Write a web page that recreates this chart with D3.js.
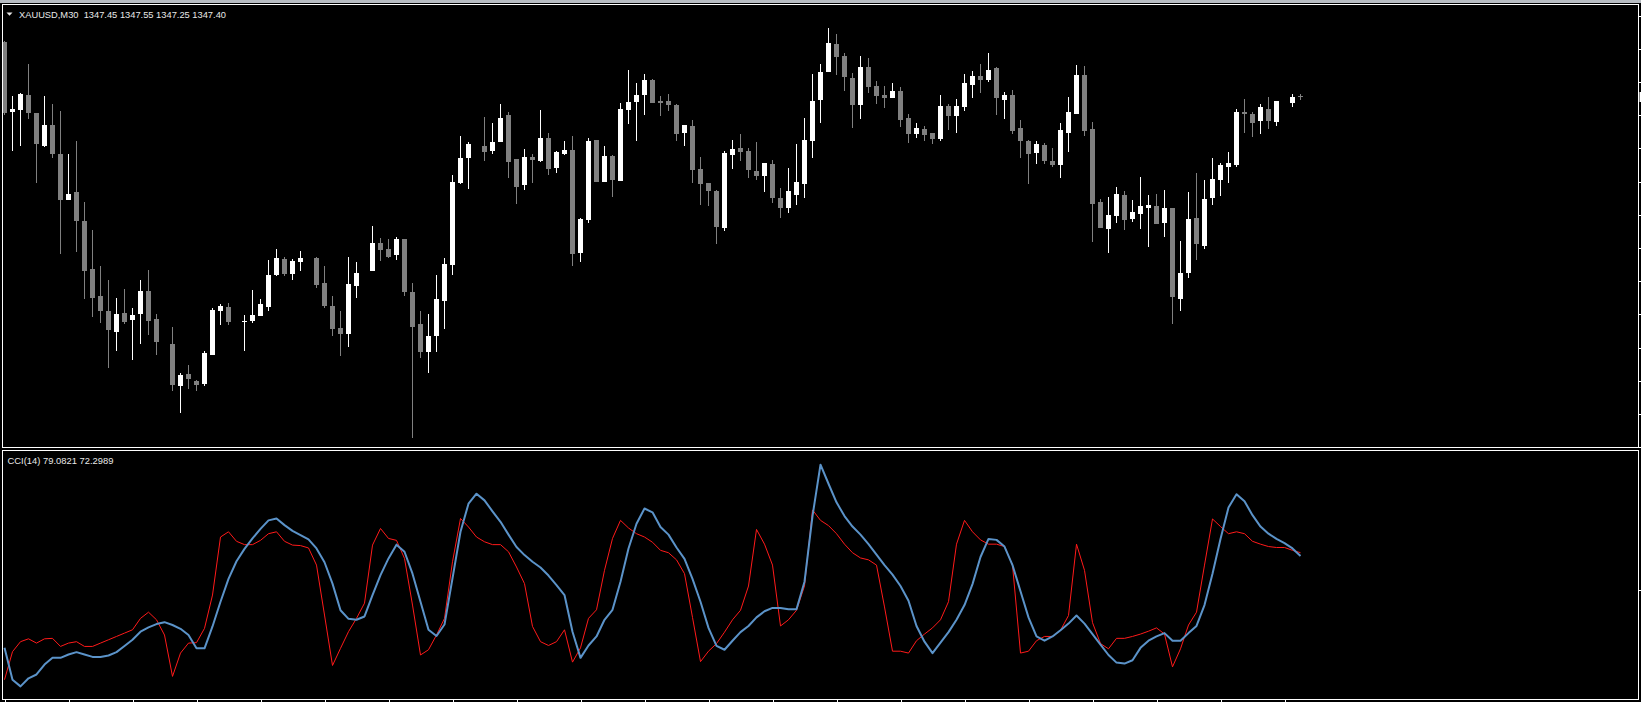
<!DOCTYPE html>
<html><head><meta charset="utf-8">
<script src="https://cdn.jsdelivr.net/npm/d3@7/dist/d3.min.js"></script>
<style>html,body{margin:0;padding:0;background:#000;overflow:hidden}</style>
</head><body>
<svg id="c" width="1641" height="702"></svg>
<script>
const headerText = "XAUUSD,M30  1347.45 1347.55 1347.25 1347.40";
const cciText = "CCI(14) 79.0821 72.2989";
const bidPrice = 1347.40;

const open = [1350.13,1346.67,1346.75,1347.50,1346.58,1344.97,1346.00,1344.53,1342.27,1342.65,
1341.20,1338.80,1337.45,1336.70,1335.67,1336.60,1336.27,1336.57,1337.70,1336.30,
null,1335.05,1332.95,1333.55,1333.20,1333.05,1334.50,1336.72,1336.90,null,
1336.13,1336.22,1336.47,1336.92,1338.50,1339.30,1338.55,1339.15,null,1339.35,
1338.10,1336.95,1335.85,1335.55,1337.95,null,1338.70,1340.10,1339.80,1339.50,
1340.30,1337.65,1336.05,1334.65,1335.45,1337.20,1339.00,1343.10,1344.35,null,
1344.95,1344.70,1345.15,1346.50,1344.30,1343.00,1344.40,1344.20,1345.35,1343.85,
1344.55,1344.75,1339.60,1341.25,1345.25,1343.15,1344.45,1343.20,1346.75,1347.15,
1347.50,1348.25,1347.20,1347.20,1347.00,1345.60,1345.95,1343.80,1343.10,1342.70,
1340.85,1344.50,1344.85,1344.70,1343.70,1343.45,1344.05,1342.35,1341.85,1342.50,
1343.05,1345.20,1347.25,1348.65,1350.05,1349.45,1348.35,1347.00,1348.90,1347.95,
1347.50,1347.35,1347.70,1346.35,1345.55,1345.80,1345.60,1345.30,1346.95,1346.45,
1346.90,1348.00,1348.45,1348.25,1348.85,1347.25,1347.50,1345.85,1345.20,1344.60,
1345.00,1344.20,1344.00,1345.60,1346.55,1348.50,1345.80,1342.15,1340.80,1341.45,
1342.50,1341.30,1341.55,1341.85,1341.95,1341.10,1341.85,1337.30,1338.60,1341.35,
1339.95,1342.35,1343.25,1343.90,1344.00,1346.65,1346.55,1346.20,1346.80,1346.15,
null,1347.10,1347.45];

const high = [1350.20,1347.45,1347.60,1349.05,1346.58,1347.45,1347.05,1346.70,1344.55,1345.20,
1342.15,1340.75,1338.95,1338.25,1337.35,1337.80,1336.83,1338.25,1338.75,1336.55,
null,1335.88,1333.58,1334.00,1333.23,1334.70,1336.85,1337.05,1337.10,null,
1336.50,1337.75,1337.30,1339.25,1339.80,1339.40,1339.30,1339.70,null,1339.40,
1338.95,1337.45,1336.70,1339.40,1339.15,null,1340.95,1340.35,1340.30,1340.40,
1340.30,1338.10,1336.70,1336.55,1338.50,1339.35,1343.50,1345.45,1345.15,null,
1346.40,1346.10,1347.05,1346.65,1344.30,1344.80,1344.55,1346.75,1345.60,1344.70,
1345.20,1345.45,1341.35,1345.35,1345.25,1344.95,1344.50,1347.10,1348.75,1348.10,
1348.55,1348.30,1347.45,1347.55,1347.05,1346.00,1346.25,1344.40,1343.10,1342.75,
1344.70,1345.25,1345.55,1344.85,1345.15,1344.10,1344.25,1342.85,1343.85,1345.05,
1346.35,1348.55,1349.05,1350.85,1350.55,1349.60,1348.60,1349.45,1349.35,1348.20,
1347.95,1348.10,1347.90,1346.55,1346.10,1345.95,1345.60,1347.50,1347.05,1347.30,
1348.55,1348.70,1349.05,1349.60,1348.90,1347.65,1347.75,1346.25,1345.25,1345.20,
1345.10,1344.85,1346.10,1347.40,1349.00,1348.95,1346.15,1342.30,1342.40,1342.90,
1342.70,1342.25,1343.40,1342.50,1342.55,1342.75,1341.85,1340.20,1342.65,1343.60,
1343.25,1344.35,1344.10,1344.65,1346.80,1347.30,1346.65,1347.05,1347.40,1347.20,
null,1347.55,1347.55];

const low = [1346.50,1344.70,1344.97,1346.32,1343.12,1344.92,1344.37,1339.57,1342.23,1339.67,
1337.30,1336.42,1336.12,1333.83,1334.72,1336.05,1334.27,1335.07,1335.52,1334.50,
null,1332.72,1331.62,1332.82,1332.72,1332.97,1334.50,1336.00,1336.02,null,
1334.72,1336.12,1336.47,1336.72,1338.47,1338.47,1338.25,1338.70,null,1337.85,
1336.85,1335.45,1334.45,1334.90,1337.35,null,1338.70,1339.20,1339.35,1339.25,
1337.45,1330.35,1334.35,1333.60,1334.65,1335.80,1338.50,1343.05,1342.80,null,
1344.20,1344.55,1345.15,1343.35,1342.05,1342.75,1343.10,1344.15,1343.50,1343.60,
1344.50,1338.95,1339.15,1341.10,1343.15,1343.15,1342.40,1343.20,1346.05,1345.20,
1346.50,1347.10,1346.45,1346.70,1345.20,1344.95,1343.10,1342.00,1341.95,1340.05,
1340.70,1343.80,1344.20,1343.35,1343.25,1342.65,1342.10,1341.35,1341.60,1342.00,
1342.35,1344.35,1346.10,1348.65,1348.50,1347.70,1345.85,1346.30,1347.60,1347.05,
1346.85,1347.35,1345.90,1345.10,1345.35,1345.20,1345.05,1345.20,1345.75,1345.60,
1346.70,1347.35,1347.60,1348.15,1346.50,1346.30,1345.55,1344.35,1343.05,1344.05,
1344.05,1343.90,1343.35,1344.65,1346.55,1345.45,1340.15,1340.85,1339.60,1341.10,
1340.75,1341.15,1340.80,1339.90,1341.05,1340.40,1336.05,1336.70,1338.35,1339.25,
1339.80,1342.00,1342.45,1343.10,1343.90,1345.60,1345.40,1345.55,1345.80,1345.95,
null,1346.90,1347.25];

const close = [1346.58,1346.80,1347.55,1346.62,1345.03,1346.00,1344.57,1342.27,1342.55,1341.22,
1338.72,1337.37,1336.72,1335.77,1336.55,1336.17,1336.50,1337.70,1336.22,1335.17,
null,1333.00,1333.50,1333.32,1333.02,1334.60,1336.75,1336.95,1336.17,null,
1336.22,1336.50,1337.05,1338.50,1339.35,1338.55,1339.20,1339.35,null,1338.00,
1336.95,1335.80,1335.55,1338.05,1338.60,null,1340.10,1339.75,1339.40,1340.30,
1337.65,1335.90,1334.65,1335.45,1337.30,1339.05,1343.15,1344.35,1345.05,null,
1344.65,1345.15,1346.35,1344.15,1342.90,1344.40,1344.25,1345.35,1343.80,1344.65,
1344.75,1339.55,1341.30,1345.20,1343.15,1344.45,1343.25,1346.80,1347.15,1347.50,
1348.25,1347.10,1347.10,1347.00,1345.55,1346.00,1343.75,1343.05,1342.70,1340.90,
1344.60,1344.80,1344.65,1343.75,1343.45,1344.10,1342.35,1341.85,1342.70,1343.15,
1345.25,1347.20,1348.65,1350.10,1349.40,1348.40,1347.00,1348.90,1347.90,1347.45,
1347.35,1347.70,1346.25,1345.55,1345.85,1345.50,1345.30,1346.95,1346.45,1346.95,
1348.10,1348.45,1348.25,1348.75,1347.35,1347.50,1345.70,1345.20,1344.55,1345.05,
1344.20,1344.00,1345.75,1346.65,1348.50,1345.70,1342.05,1340.85,1341.50,1342.55,
1341.25,1341.65,1341.95,1342.00,1341.05,1341.85,1337.40,1338.60,1341.30,1340.05,
1342.30,1343.30,1344.00,1344.10,1346.65,1346.55,1346.10,1346.90,1346.20,1347.20,
null,1347.40,1347.40];

const cciRed = [-188,-129,-108,-102,-111,-102,-101,-118,-111,-108,
-118,-118,-111,-104,-97,-90,-83,-59,-46,-62,
-94,-181,-132,-111,-110,-80,-10,112,123,103,
96,96,105,119,123,103,95,94,89,53,
-52,-158,-122,-87,-59,-27,95,130,109,105,
67,-31,-136,-125,-94,-59,60,151,133,112,
102,96,96,81,49,14,-76,-108,-116,-108,
-83,-151,-121,-59,-41,42,109,147,131,119,
112,101,84,79,64,35,-57,-150,-128,-112,
-88,-62,-42,9,128,97,53,-75,-62,-42,
9,169,147,136,119,97,79,68,64,53,
-35,-128,-128,-132,-106,-92,-79,-62,-24,97,
147,123,106,97,97,92,53,-132,-128,-106,
-97,-97,-84,-53,97,42,-68,-112,-123,-101,
-101,-97,-92,-86,-79,-92,-161,-123,-73,-46,
53,150,134,119,123,119,103,97,92,90,
90,84,79.0821];

const cciBlue = [-121,-188,-202,-185,-177,-156,-142,-142,-135,-130,
-135,-140,-140,-137,-130,-117,-104,-87,-78,-71,
-67,-73,-81,-94,-122,-122,-76,-24,24,61,
87,109,129,147,151,137,125,116,107,88,
59,14,-42,-60,-62,-55,-10,32,67,96,
81,35,-24,-83,-96,-72,25,123,182,203,
189,166,144,117,91,74,60,48,31,11,
-10,-87,-142,-116,-97,-62,-41,18,88,140,
172,164,133,117,90,66,24,-24,-79,-117,
-125,-106,-88,-75,-57,-44,-37,-37,-40,-40,
18,156,264,224,185,156,134,117,97,75,
53,33,9,-22,-75,-108,-132,-110,-88,-62,
-31,13,70,108,106,92,53,-2,-57,-97,
-106,-97,-84,-70,-53,-70,-92,-114,-136,-152,
-154,-147,-121,-106,-97,-90,-106,-106,-90,-75,
-31,35,108,174,202,187,158,134,119,108,
99,88,72.2989];

const priceTicks = [1351.47,1349.81,1348.15,1346.49,1344.83,1343.17,1341.51,1339.85,1338.19,1336.53,1334.87,1333.21,1331.55,1329.89];
const cciTicks = [0];
const timeTickBars = [0,8,16,24,32,40,48,56,64,72,80,88,96,104,112,120,128,136,144,152,160];

const svg = d3.select("#c");
const n = open.length;
const x = d3.scaleLinear().domain([0, n - 1]).range([4.5, 4.5 + 8 * (n - 1)]);
const yP = d3.scaleLinear().domain([1351, 1331]).range([25, 425]);
const yC = d3.scaleLinear().domain([0, 100]).range([590.3, 542.73]);

svg.append("rect").attr("width", 1641).attr("height", 702).attr("fill", "#000");
svg.append("rect").attr("x", 0).attr("y", 0).attr("width", 1641).attr("height", 3).attr("fill", "#b7bcc2");

const defs = svg.append("defs");
defs.append("clipPath").attr("id", "cm").append("rect").attr("x", 3).attr("y", 5).attr("width", 1635).attr("height", 442);
defs.append("clipPath").attr("id", "cc").append("rect").attr("x", 3).attr("y", 451).attr("width", 1635).attr("height", 248);

// candles
const bars = d3.range(n).filter(i => open[i] != null);
const gm = svg.append("g").attr("clip-path", "url(#cm)").attr("shape-rendering", "crispEdges");
const col = i => close[i] >= open[i] ? "#ffffff" : "#808080";
gm.selectAll("rect.w").data(bars).join("rect").attr("class", "w")
  .attr("x", i => Math.round(x(i) - 0.5)).attr("width", 1)
  .attr("y", i => Math.round(yP(high[i])))
  .attr("height", i => Math.max(1, Math.round(yP(low[i])) - Math.round(yP(high[i]))))
  .attr("fill", col);
gm.selectAll("rect.b").data(bars).join("rect").attr("class", "b")
  .attr("x", i => Math.round(x(i) - 2.5)).attr("width", 5)
  .attr("y", i => Math.round(yP(Math.max(open[i], close[i]))))
  .attr("height", i => Math.max(1, Math.round(yP(Math.min(open[i], close[i]))) - Math.round(yP(Math.max(open[i], close[i])))))
  .attr("fill", col);

// CCI lines
const gc = svg.append("g").attr("clip-path", "url(#cc)");
const line = d3.line().x((d, i) => x(i)).y(d => yC(d));
gc.append("path").attr("d", line(cciRed)).attr("fill", "none").attr("stroke", "#ff1a1a").attr("stroke-width", 1);
gc.append("path").attr("d", line(cciBlue)).attr("fill", "none").attr("stroke", "#5b93c9").attr("stroke-width", 2).attr("stroke-linejoin", "round");

// frames
const fr = svg.append("g").attr("stroke", "#fff").attr("fill", "none").attr("shape-rendering", "crispEdges");
fr.append("rect").attr("x", 2.5).attr("y", 4.5).attr("width", 1636).attr("height", 443);
fr.append("rect").attr("x", 2.5).attr("y", 450.5).attr("width", 1636).attr("height", 249);

// axes (ticks only; labels lie outside the window)
const axP = d3.axisRight(yP).tickValues(priceTicks).tickSize(4).tickFormat(() => "");
const gP = svg.append("g").attr("transform", "translate(1638.5,0)").call(axP);
const axC = d3.axisRight(yC).tickValues(cciTicks).tickSize(4).tickFormat(() => "");
const gC = svg.append("g").attr("transform", "translate(1638.5,0)").call(axC);
const axT = d3.axisBottom(x).tickValues(timeTickBars).tickSize(3).tickFormat(() => "");
const gT = svg.append("g").attr("transform", "translate(0,699.5)").call(axT);
[gP, gC, gT].forEach(g => {
  g.select(".domain").remove();
  g.selectAll("line").attr("stroke", "#fff").attr("shape-rendering", "crispEdges");
});

// bid marker
svg.append("rect").attr("x", 1639.5).attr("y", Math.round(yP(bidPrice)) - 5).attr("width", 2).attr("height", 10).attr("fill", "#fff");

// header texts
svg.append("path").attr("d", "M6.5,12.5 L12.5,12.5 L9.5,15.8 Z").attr("fill", "#e8e8e8");
svg.append("text").attr("x", 19).attr("y", 17.5).attr("fill", "#e8e8e8")
  .style("font-family", "'Liberation Sans', Arial, sans-serif").style("font-size", "9.5px").style("white-space", "pre")
  .attr("textLength", 207).attr("lengthAdjust", "spacingAndGlyphs").text(headerText);
svg.append("text").attr("x", 7.5).attr("y", 463.5).attr("fill", "#e8e8e8")
  .style("font-family", "'Liberation Sans', Arial, sans-serif").style("font-size", "9.5px").style("white-space", "pre")
  .attr("textLength", 106).attr("lengthAdjust", "spacingAndGlyphs").text(cciText);
</script>
</body></html>
